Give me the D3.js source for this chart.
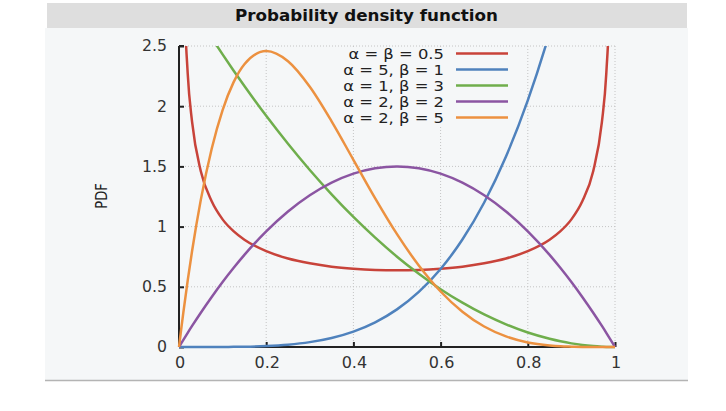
<!DOCTYPE html>
<html>
<head>
<meta charset="utf-8">
<script src="https://cdn.jsdelivr.net/npm/d3@7"></script>
<style>
  body { margin: 0; background: #fff; }
  svg { display: block; font-family: "DejaVu Sans", sans-serif; }
</style>
</head>
<body>
<div id="chart"></div>
<script>
// Size and plot margins
const width = 726;
const height = 411;
const margin = { top: 46, right: 111, bottom: 64, left: 179 };

// Sample positions along x, and the curve values
const xs = [0, 0.005, 0.01, 0.02, 0.03, 0.05, 0.075, 0.1, 0.125, 0.15, 0.2, 0.25, 0.3, 0.35, 0.4, 0.45, 0.5,
            0.55, 0.6, 0.65, 0.7, 0.75, 0.8, 0.85, 0.875, 0.9, 0.925, 0.95, 0.97, 0.98, 0.99, 0.995, 1];

const betaHalfHalf = [null, 4.51, 3.2, 2.27, 1.87, 1.46, 1.21, 1.06, 0.962, 0.891, 0.796, 0.735, 0.695, 0.667, 0.65, 0.64, 0.637,
                      0.64, 0.65, 0.667, 0.695, 0.735, 0.796, 0.891, 0.962, 1.06, 1.21, 1.46, 1.87, 2.27, 3.2, 4.51, null];
const beta5_1 = [0, 0, 0, 0, 0, 0, 0.0002, 0.0005, 0.0012, 0.0025, 0.008, 0.0195, 0.0405, 0.075, 0.128, 0.205, 0.3125,
                 0.4575, 0.648, 0.8925, 1.2, 1.582, 2.048, 2.61, 2.93, 3.28, 3.66, 4.07, 4.43, 4.61, 4.8, 4.9, 5];
const beta1_3 = [3, 2.97, 2.94, 2.881, 2.823, 2.708, 2.567, 2.43, 2.297, 2.168, 1.92, 1.688, 1.47, 1.268, 1.08, 0.908, 0.75,
                 0.608, 0.48, 0.368, 0.27, 0.188, 0.12, 0.068, 0.047, 0.03, 0.017, 0.008, 0.003, 0.001, 0.0003, 0.0001, 0];
const beta2_2 = [0, 0.03, 0.059, 0.118, 0.175, 0.285, 0.416, 0.54, 0.656, 0.765, 0.96, 1.125, 1.26, 1.365, 1.44, 1.485, 1.5,
                 1.485, 1.44, 1.365, 1.26, 1.125, 0.96, 0.765, 0.656, 0.54, 0.416, 0.285, 0.175, 0.118, 0.059, 0.03, 0];
const beta2_5 = [0, 0.147, 0.288, 0.553, 0.797, 1.222, 1.647, 1.968, 2.198, 2.349, 2.458, 2.373, 2.161, 1.874, 1.555, 1.235, 0.9375,
                 0.677, 0.461, 0.293, 0.17, 0.088, 0.038, 0.013, 0.006, 0.003, 0.001, 0.0002, 0, 0, 0, 0, 0];

const seriesNames = ["α = β = 0.5", "α = 5, β = 1", "α = 1, β = 3", "α = 2, β = 2", "α = 2, β = 5"];
const seriesValues = [betaHalfHalf, beta5_1, beta1_3, beta2_2, beta2_5];
const seriesColors = ["#c8433a", "#4f82bd", "#6fae4c", "#8b55a2", "#ec9140"];

const xTicks = [0, 0.2, 0.4, 0.6, 0.8, 1];
const yTicks = [0, 0.5, 1, 1.5, 2, 2.5];

// Scales
const x = d3.scaleLinear().domain([0, 1]).range([margin.left, width - margin.right]);
const y = d3.scaleLinear().domain([0, 2.5]).range([height - margin.bottom, margin.top]);

const svg = d3.select("#chart").append("svg")
    .attr("width", width)
    .attr("height", height);

// Panel background, title bar and bottom rule
svg.append("rect").attr("x", 45).attr("y", 28).attr("width", 643).attr("height", 352).attr("fill", "#f5f7f8");
svg.append("rect").attr("x", 47).attr("y", 3).attr("width", 640).attr("height", 25).attr("fill", "#dedede");
svg.append("line").attr("x1", 45).attr("x2", 688).attr("y1", 380.5).attr("y2", 380.5)
    .attr("stroke", "#b4b4b4").attr("stroke-width", 1.5);

// the source picture is a bit stretched sideways, so texts get a small x scale
svg.append("text")
    .attr("transform", "translate(366.5,20.5) scale(1.046,1)")
    .attr("text-anchor", "middle")
    .attr("font-weight", "bold")
    .attr("font-size", "16px")
    .attr("fill", "#111")
    .text("Probability density function");

// Dotted grid
svg.append("g").selectAll("line")
    .data(yTicks.slice(1))
    .join("line")
    .attr("x1", x(0)).attr("x2", x(1))
    .attr("y1", d => y(d)).attr("y2", d => y(d))
    .attr("stroke", "#c4c4c4").attr("stroke-dasharray", "1,2");

svg.append("g").selectAll("line")
    .data(xTicks.slice(1))
    .join("line")
    .attr("x1", d => x(d)).attr("x2", d => x(d))
    .attr("y1", y(0)).attr("y2", y(2.5))
    .attr("stroke", "#c4c4c4").attr("stroke-dasharray", "1,2");

// Key box hides the grid behind it
svg.append("rect")
    .attr("x", 312).attr("y", 48).attr("width", 211).attr("height", 79)
    .attr("fill", "#f5f7f8");

// Axes with inward ticks
const axisLeft = svg.append("g")
    .attr("transform", `translate(${x(0)},0)`)
    .call(d3.axisRight(y).tickValues(yTicks).tickSize(5).tickFormat(""));
const axisBottom = svg.append("g")
    .attr("transform", `translate(0,${y(0)})`)
    .call(d3.axisTop(x).tickValues(xTicks).tickSize(5).tickFormat(""));
[axisLeft, axisBottom].forEach(g => {
    g.select(".domain").attr("stroke", "#222").attr("stroke-width", 2);
    g.selectAll(".tick line").attr("stroke", "#222").attr("stroke-width", 2);
});
axisLeft.select(".domain").attr("d", `M0,${y(2.5)}H5M0,${y(2.5)}V${y(0)}`);
axisBottom.select(".domain").attr("d", `M${x(0)},0H${x(1)}`);

// Tick labels
svg.append("g").selectAll("text")
    .data(yTicks)
    .join("text")
    .attr("transform", d => `translate(${x(0) - 12},${y(d)}) scale(1.05,1)`)
    .attr("dy", "0.36em")
    .attr("text-anchor", "end")
    .attr("font-size", "15px")
    .attr("fill", "#333")
    .text(d => d);

svg.append("g").selectAll("text")
    .data(xTicks)
    .join("text")
    .attr("transform", d => `translate(${x(d) + 1},367.5) scale(1.07,1)`)
    .attr("text-anchor", "middle")
    .attr("font-size", "15px")
    .attr("fill", "#333")
    .text(d => d);

svg.append("text")
    .attr("transform", "translate(106.5,196) rotate(-90) scale(1,1.23)")
    .attr("text-anchor", "middle")
    .attr("font-size", "13px")
    .attr("fill", "#222")
    .text("PDF");

// Curves, clipped to the plot box
svg.append("clipPath").attr("id", "plot-clip")
    .append("rect")
    .attr("x", x(0) - 2).attr("y", y(2.5))
    .attr("width", x(1) - x(0) + 4).attr("height", y(0) - y(2.5) + 3);

const line = d3.line()
    .defined(d => d[1] !== null)
    .x(d => x(d[0]))
    .y(d => y(d[1]))
    .curve(d3.curveMonotoneX);

svg.append("g").attr("clip-path", "url(#plot-clip)")
    .selectAll("path")
    .data(seriesValues)
    .join("path")
    .attr("d", vals => line(xs.map((v, i) => [v, vals[i]])))
    .attr("fill", "none")
    .attr("stroke", (d, i) => seriesColors[i])
    .attr("stroke-width", 2.5)
    .attr("stroke-linejoin", "round");

// Key
const key = svg.append("g").selectAll("g")
    .data(seriesNames)
    .join("g")
    .attr("transform", (d, i) => `translate(0,${53.5 + i * 16})`);

key.append("text")
    .attr("transform", "translate(444,0) scale(1.13,1)")
    .attr("dy", "0.35em")
    .attr("text-anchor", "end")
    .attr("font-size", "14.5px")
    .attr("fill", "#222")
    .text(d => d);

key.append("line")
    .attr("x1", 456).attr("x2", 508)
    .attr("stroke", (d, i) => seriesColors[i])
    .attr("stroke-width", 2.5);
</script>
</body>
</html>
